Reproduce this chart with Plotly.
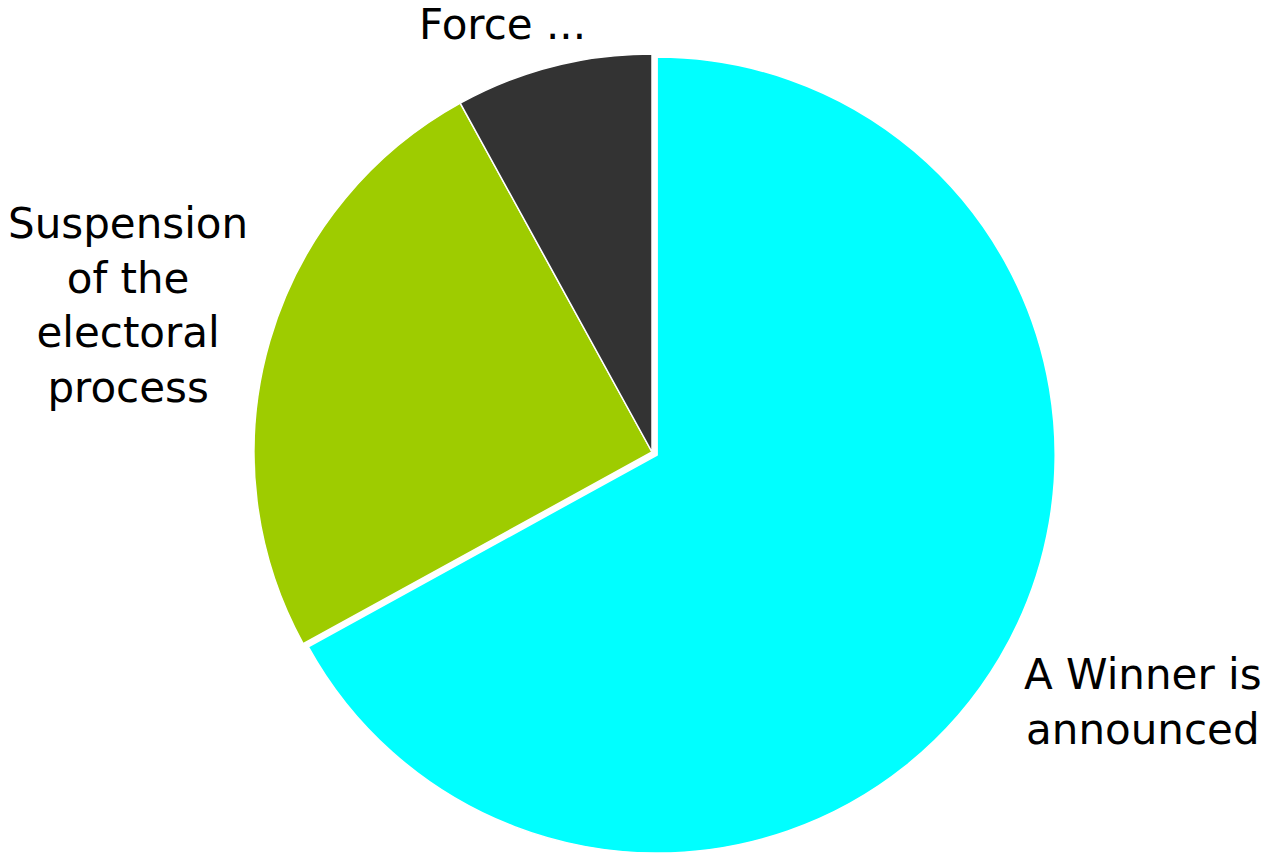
import plotly.graph_objects as go

# Outcome shares (percent)
labels = ["A Winner is announced", "Suspension of the electoral process", "Force ..."]
values = [67, 25, 8]
colors = ["#00FFFF", "#9ECC00", "#333333"]
pulls = [0.015, 0, 0]

# Wrapped label text and where each label sits (paper coords)
label_text = ["A Winner is<br>announced", "Suspension<br>of the<br>electoral<br>process", "Force ..."]
label_x = [1143 / 1266, 128 / 1266, 503 / 1266]
label_y = [1 - 702 / 856, 1 - 306 / 856, 1 - 24 / 856]

fig = go.Figure(
    go.Pie(
        labels=labels,
        values=values,
        sort=False,
        direction="clockwise",
        rotation=0,
        pull=pulls,
        marker=dict(colors=colors, line=dict(color="white", width=1.5)),
        textinfo="none",
        hoverinfo="label+percent",
        domain=dict(x=[248 / 1266, 1056 / 1266], y=[0, 808 / 856]),
        showlegend=False,
    )
)

for t, x, y in zip(label_text, label_x, label_y):
    fig.add_annotation(
        text=t, x=x, y=y, xref="paper", yref="paper",
        xanchor="center", yanchor="middle", showarrow=False,
        align="center", borderpad=0,
        font=dict(family="DejaVu Sans", size=42, color="black"),
    )

fig.update_layout(
    width=1266, height=856,
    margin=dict(l=0, r=0, t=0, b=0),
    paper_bgcolor="white", plot_bgcolor="white",
)

fig.write_html("out.html")
